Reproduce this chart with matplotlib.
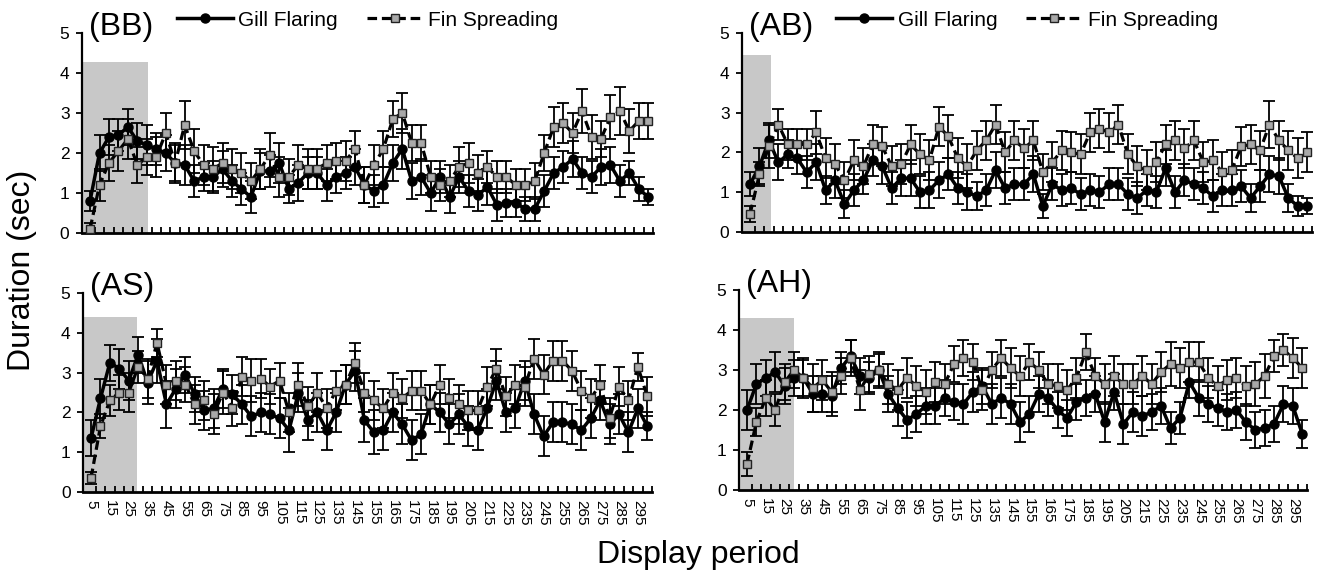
import numpy as np
import matplotlib
matplotlib.use('Agg')
import matplotlib.pyplot as plt
from matplotlib.lines import Line2D

plt.rcParams['font.family'] = ['Liberation Sans', 'DejaVu Sans']

# display periods 5..300
periods = list(range(5, 301, 5))

# (BB)
bb_gill = [0.8, 2.0, 2.4, 2.45, 2.65, 2.3, 2.2, 2.1, 2.0, 1.75, 1.7, 1.3, 1.4, 1.4, 1.6, 1.3, 1.1, 0.9, 1.55, 1.55,
           1.75, 1.1, 1.25, 1.5, 1.5, 1.2, 1.4, 1.5, 1.65, 1.2, 1.05, 1.2, 1.75, 2.1, 1.3, 1.4, 1.0, 1.4, 0.9, 1.4,
           1.05, 0.95, 1.15, 0.7, 0.75, 0.75, 0.6, 0.6, 1.05, 1.5, 1.65, 1.85, 1.5, 1.4, 1.65, 1.7, 1.3, 1.5, 1.1, 0.9]
bb_gill_err = [0.25, 0.45, 0.45, 0.4, 0.45, 0.45, 0.5, 0.4, 0.45, 0.45, 0.5, 0.4, 0.35, 0.4, 0.45, 0.4, 0.4, 0.4, 0.45, 0.4,
               0.5, 0.35, 0.45, 0.4, 0.4, 0.4, 0.4, 0.4, 0.45, 0.45, 0.4, 0.45, 0.45, 0.5, 0.45, 0.45, 0.45, 0.4, 0.4, 0.4,
               0.4, 0.4, 0.45, 0.4, 0.35, 0.35, 0.3, 0.3, 0.4, 0.4, 0.4, 0.45, 0.4, 0.4, 0.45, 0.45, 0.4, 0.3, 0.3, 0.2]
bb_fin = [0.1, 1.2, 1.75, 2.05, 2.35, 1.7, 1.9, 1.9, 2.5, 1.75, 2.7, 2.05, 1.7, 1.6, 1.75, 1.6, 1.5, 1.3, 1.6, 1.95,
          1.4, 1.4, 1.7, 1.6, 1.6, 1.75, 1.8, 1.8, 2.1, 1.2, 1.7, 2.1, 2.85, 3.0, 2.25, 2.25, 1.4, 1.2, 1.3, 1.65,
          1.75, 1.5, 1.65, 1.4, 1.4, 1.2, 1.2, 1.3, 2.0, 2.65, 2.75, 2.5, 3.05, 2.4, 2.35, 2.9, 3.05, 2.55, 2.8, 2.8]
bb_fin_err = [0.15, 0.4, 0.45, 0.5, 0.5, 0.45, 0.45, 0.5, 0.5, 0.5, 0.6, 0.55, 0.5, 0.55, 0.5, 0.5, 0.5, 0.45, 0.5, 0.55,
              0.5, 0.45, 0.5, 0.5, 0.5, 0.45, 0.45, 0.5, 0.45, 0.45, 0.5, 0.45, 0.45, 0.5, 0.45, 0.45, 0.4, 0.4, 0.4, 0.5,
              0.5, 0.45, 0.4, 0.4, 0.4, 0.4, 0.4, 0.45, 0.45, 0.5, 0.5, 0.5, 0.55, 0.55, 0.45, 0.55, 0.6, 0.55, 0.45, 0.45]

# (AB)
ab_gill = [1.2, 1.65, 2.3, 1.75, 1.95, 1.85, 1.5, 1.75, 1.05, 1.3, 0.7, 1.05, 1.3, 1.8, 1.65, 1.1, 1.35, 1.35, 1.0, 1.05,
           1.3, 1.45, 1.1, 1.0, 0.9, 1.05, 1.55, 1.1, 1.2, 1.2, 1.45, 0.65, 1.2, 1.05, 1.1, 0.95, 1.05, 1.0, 1.2, 1.2,
           0.95, 0.85, 1.05, 1.0, 1.6, 1.0, 1.3, 1.2, 1.1, 0.9, 1.05, 1.05, 1.15, 0.85, 1.15, 1.45, 1.4, 0.85, 0.65, 0.65]
ab_gill_err = [0.3, 0.45, 0.45, 0.45, 0.35, 0.4, 0.4, 0.45, 0.35, 0.45, 0.35, 0.4, 0.35, 0.4, 0.45, 0.4, 0.45, 0.45, 0.4, 0.45,
               0.45, 0.4, 0.4, 0.45, 0.35, 0.4, 0.45, 0.4, 0.4, 0.4, 0.45, 0.3, 0.4, 0.4, 0.4, 0.4, 0.4, 0.4, 0.4, 0.4,
               0.4, 0.4, 0.4, 0.4, 0.45, 0.4, 0.4, 0.4, 0.4, 0.4, 0.4, 0.4, 0.4, 0.35, 0.4, 0.45, 0.45, 0.35, 0.25, 0.2]
ab_fin = [0.45, 1.45, 2.15, 2.7, 2.2, 2.2, 2.2, 2.5, 1.85, 1.7, 1.3, 1.8, 1.65, 2.2, 2.15, 1.65, 1.7, 2.2, 1.95, 1.8,
          2.65, 2.4, 1.85, 1.65, 2.05, 2.3, 2.7, 2.0, 2.3, 2.1, 2.3, 1.5, 1.75, 2.05, 2.0, 1.95, 2.5, 2.6, 2.5, 2.7,
          1.95, 1.65, 1.55, 1.75, 2.2, 2.3, 2.1, 2.3, 1.75, 1.8, 1.5, 1.55, 2.15, 2.2, 2.05, 2.7, 2.3, 2.05, 1.85, 2.0]
ab_fin_err = [0.2, 0.3, 0.55, 0.4, 0.4, 0.4, 0.4, 0.55, 0.5, 0.5, 0.45, 0.5, 0.45, 0.5, 0.5, 0.5, 0.5, 0.5, 0.5, 0.5,
              0.5, 0.55, 0.5, 0.55, 0.5, 0.5, 0.5, 0.5, 0.5, 0.5, 0.5, 0.45, 0.5, 0.5, 0.5, 0.5, 0.5, 0.5, 0.5, 0.5,
              0.5, 0.5, 0.5, 0.5, 0.5, 0.5, 0.5, 0.5, 0.5, 0.5, 0.5, 0.5, 0.5, 0.5, 0.5, 0.6, 0.5, 0.5, 0.5, 0.5]

# (AS)
as_gill = [1.35, 2.35, 3.25, 3.1, 2.8, 3.45, 2.75, 3.3, 2.2, 2.6, 2.95, 2.45, 2.05, 2.1, 2.6, 2.45, 2.2, 1.9, 2.0, 1.95,
           1.85, 1.55, 2.5, 1.8, 2.0, 1.55, 2.0, 2.7, 3.05, 1.8, 1.5, 1.55, 2.0, 1.7, 1.3, 1.45, 2.2, 2.0, 1.7, 1.95,
           1.65, 1.55, 2.1, 2.8, 2.0, 2.1, 2.8, 1.95, 1.4, 1.75, 1.75, 1.7, 1.55, 1.85, 2.3, 1.7, 1.95, 1.5, 2.1, 1.65]
as_gill_err = [0.45, 0.5, 0.45, 0.5, 0.5, 0.45, 0.55, 0.55, 0.6, 0.5, 0.45, 0.45, 0.5, 0.5, 0.5, 0.5, 0.5, 0.5, 0.5, 0.5,
               0.5, 0.55, 0.5, 0.5, 0.5, 0.5, 0.5, 0.5, 0.5, 0.55, 0.55, 0.5, 0.5, 0.5, 0.5, 0.5, 0.5, 0.5, 0.5, 0.5,
               0.5, 0.5, 0.5, 0.5, 0.5, 0.5, 0.5, 0.5, 0.5, 0.5, 0.5, 0.5, 0.5, 0.5, 0.5, 0.5, 0.5, 0.5, 0.5, 0.35]
as_fin = [0.35, 1.65, 2.3, 2.5, 2.5, 3.15, 2.85, 3.75, 2.7, 2.8, 2.7, 2.2, 2.3, 1.95, 2.5, 2.1, 2.9, 2.8, 2.85, 2.65,
          2.8, 2.0, 2.7, 2.15, 2.5, 2.1, 2.55, 2.7, 3.25, 2.5, 2.3, 2.1, 2.5, 2.35, 2.55, 2.55, 2.2, 2.7, 2.35, 2.2,
          2.05, 2.05, 2.65, 3.1, 2.4, 2.7, 2.65, 3.35, 2.95, 3.3, 3.3, 3.05, 2.55, 2.35, 2.7, 1.85, 2.65, 2.3, 3.15, 2.4]
as_fin_err = [0.15, 0.3, 0.4, 0.45, 0.5, 0.4, 0.5, 0.35, 0.5, 0.5, 0.45, 0.5, 0.5, 0.5, 0.55, 0.45, 0.5, 0.55, 0.5, 0.45,
              0.45, 0.5, 0.55, 0.5, 0.5, 0.5, 0.5, 0.5, 0.5, 0.5, 0.5, 0.5, 0.5, 0.5, 0.5, 0.5, 0.5, 0.5, 0.5, 0.5,
              0.5, 0.5, 0.5, 0.5, 0.5, 0.5, 0.5, 0.5, 0.5, 0.5, 0.5, 0.5, 0.5, 0.5, 0.5, 0.5, 0.5, 0.5, 0.35, 0.5]

# (AH)
ah_gill = [2.0, 2.65, 2.8, 2.95, 2.6, 2.8, 2.8, 2.4, 2.4, 2.35, 3.05, 3.35, 2.85, 2.8, 3.0, 2.4, 2.05, 1.75, 1.9, 2.1,
           2.1, 2.3, 2.2, 2.15, 2.45, 2.6, 2.15, 2.3, 2.15, 1.7, 1.9, 2.4, 2.3, 2.0, 1.8, 2.2, 2.3, 2.4, 1.7, 2.45,
           1.65, 1.95, 1.85, 1.95, 2.1, 1.55, 1.8, 2.7, 2.3, 2.15, 2.05, 1.95, 2.0, 1.7, 1.5, 1.55, 1.65, 2.15, 2.1, 1.4]
ah_gill_err = [0.5, 0.5, 0.45, 0.5, 0.45, 0.45, 0.45, 0.45, 0.45, 0.5, 0.4, 0.4, 0.45, 0.4, 0.4, 0.45, 0.45, 0.45, 0.45, 0.45,
               0.45, 0.45, 0.45, 0.5, 0.5, 0.45, 0.5, 0.5, 0.5, 0.5, 0.45, 0.45, 0.45, 0.45, 0.45, 0.45, 0.45, 0.45, 0.5, 0.45,
               0.5, 0.5, 0.5, 0.45, 0.45, 0.4, 0.4, 0.4, 0.45, 0.45, 0.45, 0.45, 0.45, 0.45, 0.45, 0.45, 0.45, 0.45, 0.45, 0.35]
ah_fin = [0.65, 1.7, 2.3, 2.0, 2.7, 3.0, 2.8, 2.55, 2.75, 2.45, 2.85, 3.3, 2.5, 2.9, 3.0, 2.65, 2.5, 2.8, 2.6, 2.45,
          2.7, 2.65, 3.15, 3.3, 3.2, 2.5, 3.0, 3.3, 3.05, 2.85, 3.2, 3.0, 2.65, 2.6, 2.5, 2.8, 3.45, 2.85, 2.65, 2.85,
          2.65, 2.65, 2.85, 2.65, 2.95, 3.15, 3.05, 3.2, 3.2, 2.8, 2.6, 2.75, 2.8, 2.6, 2.65, 2.85, 3.35, 3.5, 3.3, 3.05]
ah_fin_err = [0.3, 0.35, 0.45, 0.4, 0.45, 0.45, 0.5, 0.6, 0.5, 0.5, 0.45, 0.45, 0.5, 0.45, 0.45, 0.5, 0.5, 0.5, 0.5, 0.55,
              0.5, 0.5, 0.45, 0.45, 0.45, 0.5, 0.45, 0.45, 0.5, 0.5, 0.45, 0.45, 0.5, 0.55, 0.5, 0.5, 0.45, 0.45, 0.5, 0.5,
              0.5, 0.5, 0.5, 0.5, 0.5, 0.55, 0.5, 0.5, 0.5, 0.5, 0.5, 0.5, 0.5, 0.5, 0.55, 0.55, 0.4, 0.4, 0.5, 0.5]

panel_names = ['(BB)', '(AB)', '(AS)', '(AH)']
shade_end = [6.1, 2.2, 4.9, 5.0]      # shaded region right edge (index units)
shade_top = [4.27, 4.44, 4.39, 4.29]

panels = [
    (bb_gill, bb_gill_err, bb_fin, bb_fin_err),
    (ab_gill, ab_gill_err, ab_fin, ab_fin_err),
    (as_gill, as_gill_err, as_fin, as_fin_err),
    (ah_gill, ah_gill_err, ah_fin, ah_fin_err),
]

W, H = 1317, 577
fig = plt.figure(figsize=(W / 100, H / 100), dpi=100)

# axes rectangles in pixels: left, top(y=5), right, bottom(y=0)
boxes = [(82, 33, 653, 233), (742, 33, 1312, 232), (83, 293, 652, 492), (739, 290, 1307, 490)]

x = np.arange(len(periods))
for k, (gill, gerr, fin, ferr) in enumerate(panels):
    l, t, r, b = boxes[k]
    ax = fig.add_axes([l / W, 1 - b / H, (r - l) / W, (b - t) / H])
    xmin, xmax = -0.85, 59.45
    ax.fill_between([xmin, shade_end[k]], 0, shade_top[k], color='#c8c8c8', lw=0, zorder=0)

    ax.errorbar(x, gill, yerr=gerr, fmt='none', ecolor='black', elinewidth=1.3,
                capsize=4, capthick=1.3, zorder=2)
    ax.errorbar(x, fin, yerr=ferr, fmt='none', ecolor='black', elinewidth=1.3,
                capsize=4, capthick=1.3, zorder=2)
    ax.plot(x, gill, color='black', lw=2.5, marker='o', ms=6.5, mfc='black', mec='black', zorder=3)
    ax.plot(x, fin, color='black', lw=2.3, ls=(0, (3, 1.5)), marker='s', ms=6,
            mfc='#a9a9a9', mec='#222222', mew=1.0, zorder=4)

    ax.set_xlim(xmin, xmax)
    ax.set_ylim(0, 5)
    ax.set_yticks([0, 1, 2, 3, 4, 5])
    ax.tick_params(axis='y', direction='out', length=4, width=1.3, labelsize=12.5, pad=5)
    for s in ['top', 'right']:
        ax.spines[s].set_visible(False)
    ax.spines['left'].set_linewidth(1.6)
    ax.spines['bottom'].set_linewidth(2.0)

    ax.set_xticks(x[::2])
    ax.set_xticks(x + 0.5, minor=True)
    ax.tick_params(axis='x', which='major', length=0, pad=6)
    ax.tick_params(axis='x', which='minor', direction='in', length=4, width=1.3)
    if k >= 2:
        ax.set_xticklabels([str(p) for p in periods[::2]], rotation=-90, fontsize=11)
    else:
        ax.set_xticklabels([])

    ax.text(0.012, 1.03, panel_names[k], transform=ax.transAxes, fontsize=23,
            ha='left', va='center')

    if k < 2:
        handles = [
            Line2D([], [], color='black', lw=2.5, marker='o', ms=6.5),
            Line2D([], [], color='black', lw=2.3, ls=(0, (3, 1.5)), marker='s', ms=6,
                   mfc='#a9a9a9', mec='#222222'),
        ]
        ax.legend(handles, ['Gill Flaring', 'Fin Spreading'], ncol=2, loc='center',
                  bbox_to_anchor=(0.5, 1.065), frameon=False, fontsize=15,
                  handlelength=2.7, handletextpad=0.25, columnspacing=1.4)

fig.text(22 / W, 1 - 270 / H, 'Duration (sec)', rotation=90, fontsize=23, ha='center', va='center')
fig.text(698 / W, 1 - 555 / H, 'Display period', fontsize=23, ha='center', va='center')

fig.savefig('out.png', dpi=100)
